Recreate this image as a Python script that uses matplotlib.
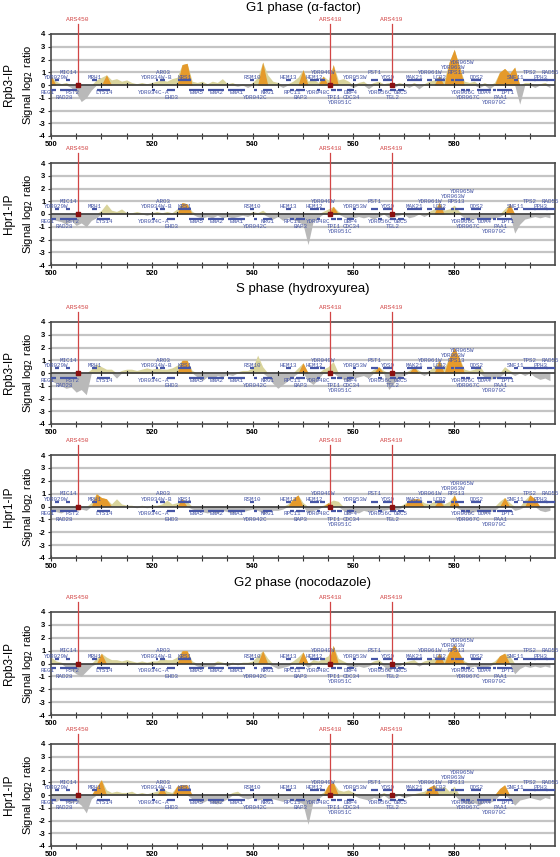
import numpy as np
import matplotlib
matplotlib.use("Agg")
import matplotlib.pyplot as plt

# ---------------- data ----------------
positions_kb = np.arange(500, 600)

phase_titles = ["G1 phase (\u03b1-factor)", "S phase (hydroxyurea)", "G2 phase (nocodazole)"]
ip_names = ["Rpb3-IP", "Hpr1-IP"]

g1_rpb3 = [0.7, 0.3, 0.1, 0.2, -0.2, -0.6, -1.3, -1.0, -0.4, 0.4,
           0.6, 0.8, 0.4, 0.5, 0.3, 0.4, 0.2, 0.1, 0.2, 0.1,
           0.2, 0.3, 0.4, 0.3, 0.5, 0.6, 1.6, 1.7, 0.3, 0.2,
           0.3, 0.1, 0.3, 0.2, 0.5, 0.1, 0.2, -0.1, 0.1, -0.2,
           0.2, 0.6, 1.8, 0.8, 0.3, 0.2, -0.2, 0.1, 0.3, 0.6,
           1.2, 0.3, 0.5, 0.2, 0.7, 0.4, 1.6, 0.4, 0.5, 0.3,
           -0.2, 0.2, 0.3, -0.3, 0.2, 0.3, 0.1, 0.2, -0.2, 0.2,
           0.1, -0.2, 0.2, -0.3, 0.1, 0.3, 0.4, 0.7, 0.4, 1.8,
           2.8, 1.5, 0.3, 0.2, 0.3, -0.2, 0.2, -0.3, 0.2, 1.0,
           1.3, 0.9, 1.4, -1.5, 0.2, 0.2, -0.2, 0.1, 0.2, -0.2]
g1_rpb3_sig = [500, 511, 526, 527, 542, 550, 554, 556, 577, 579, 580, 581, 589, 590, 591, 592]

g1_hpr1 = [-0.3, -0.5, -0.6, -0.8, -0.5, -0.9, -0.7, -1.0, -0.5, -0.3,
           0.3, 0.8, 0.3, 0.2, 0.4, 0.1, 0.1, 0.2, 0.1, -0.1,
           0.1, 0.2, 0.1, 0.2, 0.1, 0.4, 0.9, 0.8, 0.2, -0.2,
           -0.3, -0.2, -0.3, -0.1, -0.3, -0.2, -0.3, -0.2, -0.1, -0.2,
           0.2, 0.1, 0.3, -0.2, -0.4, -0.2, -0.5, -0.3, -0.4, -0.6,
           -0.8, -2.4, -0.6, -0.3, 0.2, 0.4, 0.6, 0.2, -0.2, -0.4,
           -0.3, -0.2, -0.3, -0.2, -0.4, -0.2, 0.1, -0.3, -0.2, -0.1,
           0.1, -0.3, -0.2, 0.1, -0.2, 0.2, 0.4, 0.9, 0.3, 0.4,
           0.7, 0.2, -0.3, -0.5, -0.4, -0.3, -0.5, -0.4, -0.3, -0.2,
           0.4, 0.8, -1.5, -0.8, -0.4, -0.3, -0.2, -0.3, -0.2, -0.3]
g1_hpr1_sig = [526, 527, 556, 577, 591]

s_rpb3 = [-0.6, -0.8, -1.0, -1.2, -1.1, -1.5, -1.3, -1.7, 0.3, 0.7,
          0.5, 0.3, 0.3, -0.4, 0.2, 0.3, 0.3, 0.2, 0.3, 0.4,
          0.3, 0.4, 0.3, 0.3, 0.4, 0.6, 1.0, 1.0, 0.2, -0.3,
          -0.6, -0.3, -0.5, -0.2, -0.3, -0.1, -0.2, 0.1, 0.2, 0.2,
          0.4, 1.4, 0.5, -0.3, -0.8, -1.2, -0.9, -0.6, -0.3, 0.4,
          0.8, -0.6, -0.9, -0.5, 0.3, 0.5, 0.9, -0.3, -0.5, -0.6,
          -0.4, -0.3, -0.2, -0.4, 0.3, 0.5, 0.2, -1.3, -0.8, -0.3,
          -0.2, 0.2, 0.5, 0.2, -0.2, 0.2, 0.5, 1.0, 0.4, 1.2,
          2.0, 1.2, 0.3, 0.2, 0.3, 0.6, -0.3, -0.5, -0.4, -0.3,
          0.5, 0.2, -0.2, 0.1, -0.2, 0.1, -0.3, -0.5, -0.4, -0.6]
s_rpb3_sig = [526, 527, 550, 565, 572, 577, 579, 580, 581]

s_hpr1 = [-0.3, -0.4, -0.5, -0.3, -0.4, -0.3, -0.2, -0.3, 0.3, 1.0,
          0.7, 0.6, 0.2, 0.6, 0.2, 0.1, 0.1, -0.1, 0.1, -0.1,
          0.1, 0.1, 0.2, 0.5, 0.2, 0.3, 0.6, 0.4, -0.2, -0.3,
          -0.4, -0.5, -0.4, -0.5, -0.3, -0.4, -0.5, -0.3, -0.4, -0.3,
          -0.2, -0.3, -0.5, -0.4, -0.3, -0.3, -0.2, 0.2, 0.6, 0.9,
          0.3, -0.5, -0.3, -0.2, 0.1, 0.3, 0.5, 0.4, -0.3, -0.5,
          -0.4, -0.5, -0.3, -0.4, -0.3, -0.2, -0.3, -0.2, -0.3, -0.2,
          0.2, 0.5, 0.6, 0.6, 0.3, 0.2, 0.4, 0.5, 0.2, 0.4,
          0.9, -0.2, -0.4, -0.5, -0.4, -0.3, -0.5, -0.4, -0.3, 0.4,
          0.7, 0.3, -0.3, -0.2, 0.5, 0.9, 0.6, -0.3, -0.4, -0.3]
s_hpr1_sig = [509, 510, 511, 526, 548, 549, 555, 571, 572, 573, 577, 580, 590, 595, 596]

g2_rpb3 = [0.5, 0.2, 0.1, -0.3, -0.5, -0.8, -1.0, -0.6, -0.2, 0.4,
           0.8, 0.5, 0.3, 0.3, 0.2, 0.3, 0.2, 0.1, 0.2, 0.1,
           0.2, 0.2, 0.4, 0.3, 0.3, 0.5, 1.0, 1.0, 0.2, -0.2,
           -0.3, -0.2, -0.3, 0.2, 0.1, -0.2, 0.1, -0.1, 0.1, 0.1,
           0.2, 0.6, 1.0, 0.4, -0.2, -0.4, -0.3, -0.2, 0.2, 0.5,
           0.9, -0.3, 0.3, 0.2, 0.4, 0.6, 1.4, 0.4, 0.2, -0.2,
           -0.3, -0.2, -0.3, -0.2, 0.2, 0.3, -0.2, -0.6, -0.3, -0.2,
           0.1, 0.2, 0.3, -0.2, 0.2, 0.3, 0.4, 0.8, 0.3, 0.9,
           1.5, 0.8, 0.2, -0.3, -0.2, -0.4, -0.3, -0.2, 0.2, 0.6,
           0.8, 0.6, -0.8, -0.4, -0.2, -0.3, -0.2, -0.3, -0.2, -0.3]
g2_rpb3_sig = [510, 526, 527, 542, 550, 556, 577, 579, 580, 581, 589, 590]

g2_hpr1 = [-0.4, -0.5, -0.3, -0.5, -0.6, -0.5, -0.8, -1.4, -0.3, 0.6,
           1.2, 0.4, 0.2, 0.3, 0.2, 0.2, 0.3, 0.1, 0.2, 0.1,
           0.2, 0.3, 0.6, 0.3, 0.2, 0.7, 0.8, 0.8, -0.3, -0.5,
           -0.6, -0.4, -0.6, -0.7, -0.5, -0.3, 0.2, 0.3, -0.2, -0.3,
           -0.2, -0.4, -0.3, -0.5, -0.3, -0.4, -0.5, -0.3, -0.4, -0.5,
           -0.7, -2.3, -0.5, -0.3, 0.2, 0.8, 1.0, 0.4, 0.3, 0.4,
           0.2, -0.2, -0.3, -0.4, -0.2, -0.3, 0.2, -0.3, -0.2, 0.1,
           -0.2, -0.1, 0.1, 0.2, 0.3, 0.6, 0.8, 0.5, 0.7, 0.3,
           0.7, -0.4, -0.6, -0.7, -0.6, -0.8, -0.5, -0.6, -0.4, 0.5,
           0.8, -0.3, -0.8, -0.4, -0.3, -0.2, -0.3, -0.4, -0.2, -0.3]
g2_hpr1_sig = [509, 510, 522, 525, 526, 527, 555, 556, 575, 576, 589, 590]

# genes (kb): name, start, end, strand
gene_names = ["YDR029W", "MIC14", "MRH1", "YDR034W-B", "ARO3", "KRS1", "RSM10", "HEM13",
              "HEM12", "YDR049W", "YDR053W", "PST1", "YOS9", "MAK21", "YDR061W", "LCB2",
              "YDR063W", "RPS13", "YDR065W", "DOS2", "SNF11", "TPS2", "PPH3", "RAD55",
              "REG1", "RAD28", "PST2", "LYS14", "YDR034C-A", "EHD3", "ENA5", "ENA2", "ENA1",
              "YDR042C", "NRG1", "RPC11", "BAP3", "YDR048C", "TPI1", "YDR051C", "DBF4",
              "CDC34", "YDR056C", "TGL2", "UBC5", "YDR066C", "YDR067C", "DOA4", "YDR070C",
              "PAA1", "IPT1"]
gene_start = [500.7, 503.0, 508.1, 520.8, 521.6, 525.2, 539.5, 546.6,
              551.4, 553.4, 560.0, 563.4, 565.8, 570.6, 574.7, 576.1,
              579.4, 580.1, 581.0, 583.4, 591.8, 593.6, 595.8, 598.2,
              497.5, 501.8, 503.6, 509.2, 520.1, 523.1, 527.4, 531.2, 535.2,
              540.3, 542.0, 547.4, 548.6, 552.8, 555.5, 556.8, 558.8,
              559.2, 564.9, 567.2, 568.8, 581.4, 582.4, 584.6, 587.7,
              588.5, 589.6]
gene_end = [501.5, 503.8, 509.1, 521.2, 522.7, 527.8, 540.2, 547.6,
            553.2, 554.4, 560.6, 564.8, 567.7, 573.6, 575.6, 578.2,
            580.0, 580.9, 582.0, 585.4, 592.7, 596.3, 598.6, 600.0,
            501.0, 503.6, 505.1, 511.8, 520.6, 524.6, 530.3, 534.4, 538.4,
            540.9, 543.9, 548.2, 550.4, 553.4, 556.6, 557.8, 560.2,
            559.8, 565.6, 568.4, 570.1, 582.1, 583.1, 587.4, 588.3,
            589.7, 591.4]
gene_strand = ["+"] * 24 + ["-"] * 27
gene_level = [1, 2, 1, 1, 2, 1, 1, 1,
              1, 2, 1, 2, 1, 1, 2, 1,
              3, 2, 4, 1, 1, 2, 1, 2,
              1, 2, 1, 1, 1, 2, 1, 1, 1,
              2, 1, 1, 2, 1, 2, 3, 1,
              2, 1, 2, 1, 1, 2, 1, 3,
              2, 1]

ars_names = ["ARS450", "ARS418", "ARS419"]
ars_pos = [505.3, 555.4, 567.6]

# ---------------- style ----------------
W, H = 560, 857
fig = plt.figure(figsize=(W / 100, H / 100), dpi=100)
plt.rcParams["font.family"] = ["Liberation Sans", "DejaVu Sans"]

GREY = "#b9b9b9"
KHAKI = "#d9d49c"
ORANGE = "#e59a2b"
BLUE = "#4656a6"
RED = "#d24545"

panels = [
    (g1_rpb3, g1_rpb3_sig, 0), (g1_hpr1, g1_hpr1_sig, 1),
    (s_rpb3, s_rpb3_sig, 0), (s_hpr1, s_hpr1_sig, 1),
    (g2_rpb3, g2_rpb3_sig, 0), (g2_hpr1, g2_hpr1_sig, 1),
]
panel_px = [(34, 136), (163, 265), (322, 424), (455, 558), (612, 715), (744, 846)]
title_px = [8, 289, 583]
LEFT, RIGHT = 51, 555

label_levels_up = {1: 0.58, 2: 1.0, 3: 1.4, 4: 1.8}
label_levels_dn = {1: -0.55, 2: -0.98, 3: -1.40}

for k, (vals, sig, ipi) in enumerate(panels):
    top, bot = panel_px[k]
    ax = fig.add_axes([LEFT / W, 1 - bot / H, (RIGHT - LEFT) / W, (bot - top) / H])
    ax.set_xlim(500, 600)
    ax.set_ylim(-4, 4)
    x = positions_kb.astype(float)
    v = np.array(vals, dtype=float)
    # grid lines
    for yy in [-3, -2, -1, 1, 2, 3]:
        ax.axhline(yy, color="#c4c4c4", lw=1.6, zorder=0)
    ax.fill_between(x, 0, np.clip(v, None, 0), color=GREY, lw=0, zorder=1)
    ax.fill_between(x, 0, np.clip(v, 0, None), color=KHAKI, lw=0, zorder=1)
    mask = np.isin(positions_kb, sig)
    ax.fill_between(x, 0, np.where(mask, np.clip(v, 0, None), 0), color=ORANGE, lw=0, zorder=2)
    ax.axhline(0, color="#3a3a3a", lw=1.2, zorder=3)
    # small marks on zero line
    for t in range(505, 600, 5):
        ax.plot([t, t], [-0.12, 0.12], color="#222222", lw=0.8, zorder=3)
    # genes
    for name, s0, e0, st, lv in zip(gene_names, gene_start, gene_end, gene_strand, gene_level):
        yb = 0.36 if st == "+" else -0.36
        ax.plot([max(s0, 500), min(e0, 600)], [yb, yb], color=BLUE, lw=1.6,
                solid_capstyle="butt", zorder=4)
        yl = label_levels_up[lv] if st == "+" else label_levels_dn[lv]
        ax.text((s0 + e0) / 2, yl, name, fontsize=4.2, family="Liberation Mono",
                color=BLUE, ha="center", va="center", zorder=5, clip_on=False)
    # ARS
    for nm, p in zip(ars_names, ars_pos):
        ax.plot([p, p], [0, 4.75], color=RED, lw=0.9, zorder=6, clip_on=False)
        ax.plot([p], [0], marker="s", ms=2.6, color="#8a1010", zorder=7)
        ax.text(p, 5.15, nm, fontsize=4.5, family="Liberation Mono", color=RED,
                ha="center", va="center", clip_on=False)
    # axes style
    for sp in ax.spines.values():
        sp.set_color("#4a4a4a")
        sp.set_linewidth(1.2)
    ax.set_yticks(range(-4, 5))
    ax.set_yticklabels([str(t) for t in range(-4, 5)], fontsize=5.5, fontweight="bold")
    ax.set_xticks([500, 520, 540, 560, 580])
    ax.set_xticklabels(["500", "520", "540", "560", "580"], fontsize=5.5, fontweight="bold")
    ax.set_xticks(np.arange(505, 600, 5), minor=True)
    ax.tick_params(axis="x", which="both", direction="inout", length=4, width=0.8,
                   pad=1.5, color="#333333")
    ax.tick_params(axis="y", direction="out", length=2.5, width=0.8, pad=1.5, color="#333333")
    # side labels
    cy = 1 - (top + bot) / 2 / H
    fig.text(9 / W, cy, ip_names[ipi], rotation=90, ha="center", va="center",
             fontsize=8.5)
    fig.text(28 / W, cy, "Signal log$_2$ ratio", rotation=90, ha="center", va="center",
             fontsize=8)

for i, t in enumerate(phase_titles):
    fig.text((LEFT + RIGHT) / 2 / W, 1 - title_px[i] / H, t, ha="center", va="center",
             fontsize=9.5)

fig.savefig("out.png", dpi=100)
